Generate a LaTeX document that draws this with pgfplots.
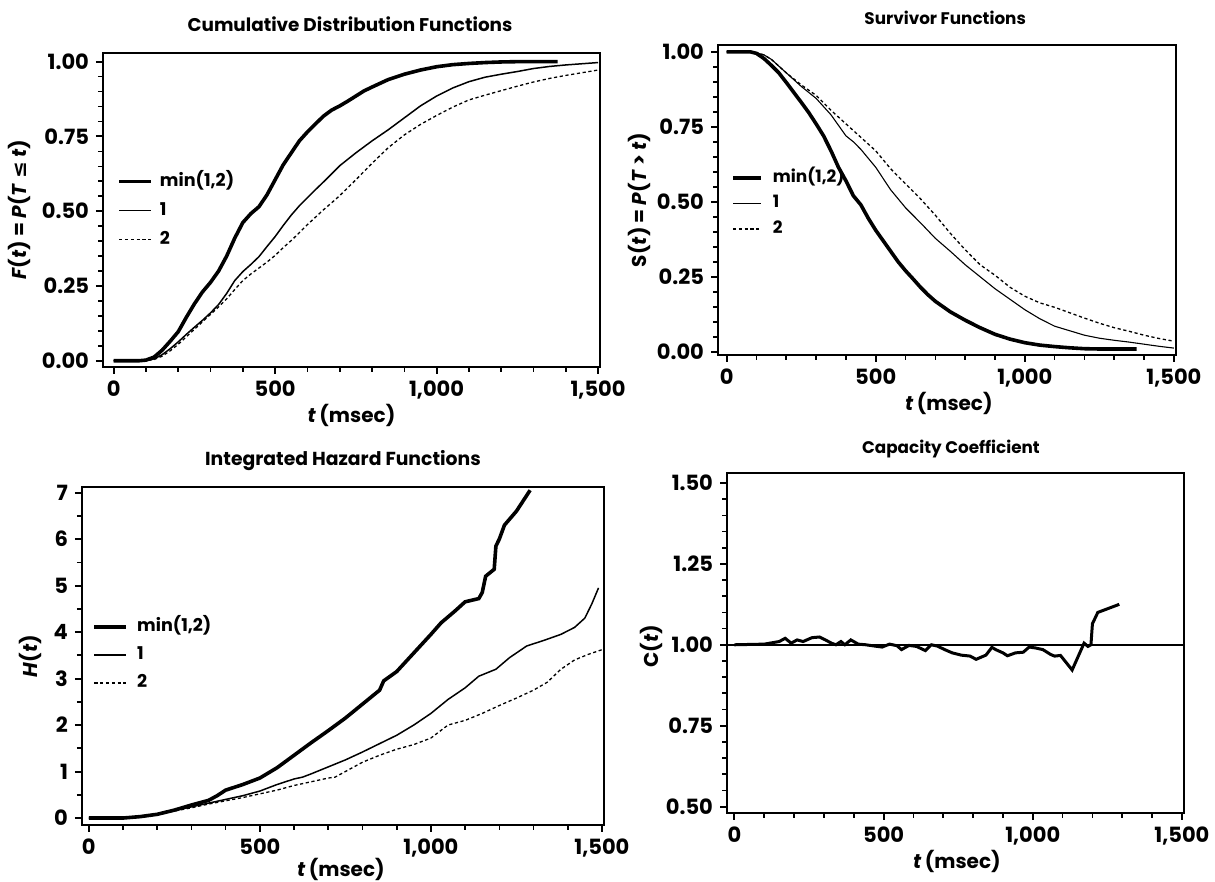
\documentclass[border=0pt]{standalone}
\usepackage{fontspec}
\setmainfont{Poppins}
\newfontfamily\dejavu{DejaVu Sans}
\usepackage{pgfplots}
\pgfplotsset{compat=1.18}

\pgfplotsset{
  panel/.style={
    scale only axis, anchor=south west, clip=true,
    axis line style={line width=1.1pt},
    tick align=outside, xtick pos=bottom, ytick pos=left,
    major tick length=3.5pt, minor tick length=2.5pt,
    every tick/.append style={line width=1pt, black},
    every minor tick/.append style={line width=0.8pt},
    tick label style={font=\fontsize{10.5}{12}\selectfont\bfseries},
    label style={font=\fontsize{10}{12}\selectfont\bfseries},
    title style={font=\fontsize{8.4}{10}\selectfont\bfseries, anchor=center, yshift=0pt},
    xtick={0,500,1000,1500}, xticklabels={0,500,{1,000},{1,500}},
    minor x tick num=4,
    xlabel={\textit{t}\,(msec)},
    xlabel style={anchor=center},
    ylabel style={anchor=center, rotate=0},
    legend cell align=left,
    legend image code/.code={\draw[##1] (0pt,0pt) -- (16pt,0pt);},
  },
  minc/.style={line width=1.8pt, black},
  onec/.style={line width=0.75pt, black},
  twoc/.style={line width=0.65pt, black, dash pattern=on 1.6pt off 1.3pt},
}

\pgfplotstableread{
t F
0 0
80 0
100 0.002
125 0.012
150 0.035
175 0.065
200 0.097
225 0.145
250 0.19
275 0.23
300 0.262
325 0.30
350 0.35
375 0.41
400 0.462
425 0.492
450 0.515
475 0.555
500 0.605
525 0.655
550 0.695
575 0.735
600 0.765
625 0.792
650 0.818
675 0.838
700 0.852
725 0.868
750 0.885
775 0.902
800 0.915
850 0.94
900 0.958
950 0.972
1000 0.983
1050 0.99
1100 0.994
1150 0.997
1200 0.999
1250 1
1375 1
}\cdfmin
\pgfplotstableread{
t F
0 0
100 0
125 0.006
150 0.02
175 0.04
200 0.063
225 0.088
250 0.112
275 0.135
300 0.16
325 0.188
350 0.225
375 0.268
400 0.298
425 0.322
450 0.348
475 0.382
500 0.415
525 0.452
550 0.487
575 0.518
600 0.545
625 0.572
650 0.598
675 0.625
700 0.652
750 0.695
800 0.735
850 0.772
900 0.812
950 0.852
1000 0.885
1050 0.912
1100 0.933
1150 0.948
1200 0.958
1250 0.967
1300 0.977
1350 0.984
1400 0.989
1450 0.993
1500 0.997
}\cdfone
\pgfplotstableread{
t F
0 0
100 0
125 0.004
150 0.015
175 0.033
200 0.055
225 0.08
250 0.105
275 0.13
300 0.155
325 0.18
350 0.207
375 0.238
400 0.268
425 0.29
450 0.31
475 0.33
500 0.352
525 0.378
550 0.402
575 0.428
600 0.455
625 0.48
650 0.505
675 0.528
700 0.552
750 0.605
800 0.66
850 0.712
900 0.755
950 0.79
1000 0.82
1050 0.848
1100 0.872
1150 0.888
1200 0.903
1250 0.918
1300 0.932
1350 0.944
1400 0.954
1450 0.963
1500 0.972
}\cdftwo

\pgfplotstableread{
t S
0 1
80 1
100 0.995
125 0.978
150 0.955
175 0.93
200 0.898
225 0.865
250 0.832
275 0.798
300 0.76
325 0.72
350 0.67
375 0.615
400 0.57
425 0.52
450 0.49
475 0.445
500 0.405
525 0.37
550 0.335
575 0.3
600 0.27
625 0.243
650 0.215
675 0.19
700 0.168
750 0.133
800 0.105
850 0.08
900 0.058
950 0.042
1000 0.03
1050 0.022
1100 0.017
1150 0.013
1200 0.01
1250 0.009
1375 0.009
}\survmin
\pgfplotstableread{
t S
0 1
80 1
100 0.997
125 0.99
150 0.975
200 0.93
250 0.885
300 0.845
350 0.79
400 0.72
425 0.70
450 0.675
500 0.615
550 0.54
600 0.48
650 0.43
700 0.378
750 0.335
800 0.29
850 0.25
900 0.21
950 0.175
1000 0.14
1050 0.11
1100 0.085
1150 0.07
1200 0.055
1250 0.045
1300 0.038
1350 0.032
1400 0.025
1450 0.018
1500 0.012
}\survone
\pgfplotstableread{
t S
0 1
80 1
100 0.997
125 0.99
150 0.975
200 0.93
250 0.89
300 0.855
350 0.805
400 0.76
450 0.715
500 0.67
550 0.61
600 0.56
650 0.51
700 0.455
750 0.395
800 0.34
850 0.29
900 0.255
950 0.215
1000 0.185
1050 0.163
1100 0.148
1150 0.13
1200 0.112
1250 0.095
1300 0.08
1350 0.068
1400 0.055
1450 0.044
1500 0.035
}\survtwo

\pgfplotstableread{
t H
0 0
100 0
150 0.03
200 0.08
250 0.17
300 0.28
350 0.38
375 0.48
400 0.6
450 0.72
500 0.86
550 1.08
600 1.35
650 1.62
700 1.88
750 2.15
800 2.45
850 2.75
862 2.95
900 3.15
950 3.55
1000 3.95
1030 4.2
1070 4.45
1100 4.65
1140 4.72
1150 4.85
1160 5.2
1185 5.35
1190 5.85
1200 6.0
1215 6.3
1250 6.6
1290 7.05
}\hazmin
\pgfplotstableread{
t H
0 0
100 0
150 0.04
200 0.09
250 0.16
300 0.24
350 0.32
400 0.4
450 0.48
500 0.58
550 0.72
600 0.84
625 0.88
650 0.95
700 1.1
750 1.25
800 1.42
850 1.6
900 1.78
950 2.0
1000 2.25
1050 2.55
1100 2.8
1140 3.05
1190 3.2
1230 3.45
1280 3.7
1330 3.82
1380 3.95
1420 4.1
1450 4.3
1470 4.6
1490 4.95
}\hazone
\pgfplotstableread{
t H
0 0
100 0
150 0.03
200 0.08
250 0.15
300 0.22
350 0.3
400 0.37
450 0.44
500 0.52
550 0.6
600 0.7
650 0.78
700 0.86
720 0.88
750 1.0
800 1.2
850 1.35
900 1.48
950 1.58
1000 1.72
1050 2.0
1100 2.1
1150 2.25
1200 2.42
1250 2.58
1300 2.75
1340 2.92
1380 3.2
1420 3.4
1460 3.52
1500 3.62
}\haztwo

\pgfplotstableread{
t C
0 1.0
100 1.002
150 1.01
170 1.02
190 1.005
210 1.015
230 1.01
260 1.022
285 1.024
305 1.015
325 1.005
340 1.0
357 1.01
370 1.0
390 1.015
415 1.002
440 1.0
470 0.996
495 0.993
520 1.002
545 0.997
560 0.985
585 0.998
610 0.995
640 0.982
660 1.0
680 0.996
705 0.985
730 0.975
760 0.968
790 0.965
810 0.955
843 0.968
863 0.992
876 0.985
900 0.975
915 0.966
942 0.975
968 0.977
988 0.993
1010 0.99
1034 0.985
1060 0.97
1073 0.965
1093 0.967
1132 0.922
1172 1.005
1185 0.995
1195 1.0
1200 1.065
1218 1.1
1290 1.125
}\capc

\begin{document}
\begin{tikzpicture}
\useasboundingbox (0,0) rectangle (607.5pt,441pt);

% Panel 1: CDF
\begin{axis}[panel, at={(51.5pt,257.5pt)}, width=248.5pt, height=157pt,
  xmin=-33, xmax=1506, ymin=-0.021, ymax=1.029,
  ytick={0,0.25,0.5,0.75,1}, yticklabels={0.00,0.25,0.50,0.75,1.00},
  minor y tick num=4,
  title={Cumulative Distribution Functions},
  title style={at={(axis description cs:0.497,1.054)}, font=\fontsize{9.2}{10}\selectfont\bfseries},
  xlabel style={at={(axis description cs:0.5,-0.153)}},
  ylabel={\textit{F}(\textit{t}) = \textit{P}(\textit{T} {\dejavu\bfseries ≤} \textit{t})},
  ylabel style={at={(axis description cs:-0.169,0.5)}, rotate=0},
  legend style={draw=none, fill=none, at={(axis description cs:0.016,0.635)}, anchor=north west,
    font=\fontsize{8.8}{10}\selectfont\bfseries, row sep=5pt, column sep=3.5pt,
    nodes={inner sep=0pt, text height=7pt, text depth=2.5pt}},
]
\addplot[minc] table[x=t,y=F] {\cdfmin};
\addplot[onec] table[x=t,y=F] {\cdfone};
\addplot[twoc] table[x=t,y=F] {\cdftwo};
\legend{min(1{,}2),1,2}
\end{axis}

% Panel 2: Survivor
\begin{axis}[panel, at={(359pt,263.5pt)}, width=229pt, height=155pt,
  xmin=-29, xmax=1507, ymin=-0.011, ymax=1.023,
  ytick={0,0.25,0.5,0.75,1}, yticklabels={0.00,0.25,0.50,0.75,1.00},
  minor y tick num=4,
  title={Survivor Functions},
  title style={at={(axis description cs:0.496,1.048)}},
  xlabel style={at={(axis description cs:0.504,-0.155)}},
  ylabel={S(\textit{t}) = \textit{P}(\textit{T} > \textit{t})},
  ylabel style={at={(axis description cs:-0.172,0.5)}},
  legend style={draw=none, fill=none, at={(axis description cs:0.015,0.616)}, anchor=north west,
    font=\fontsize{8.5}{10}\selectfont\bfseries, row sep=3.25pt, column sep=5pt,
    nodes={inner sep=0pt, text height=7pt, text depth=2.5pt}},
  legend image code/.code={\draw[#1] (0pt,0pt) -- (14pt,0pt);},
]
\addplot[minc] table[x=t,y=S] {\survmin};
\addplot[onec, line width=0.55pt] table[x=t,y=S] {\survone};
\addplot[twoc] table[x=t,y=S] {\survtwo};
\legend{min(1{,}2),1,2}
\end{axis}

% Panel 3: Integrated hazard
\begin{axis}[panel, at={(41pt,28.5pt)}, width=261pt, height=169pt,
  xmin=-20, xmax=1506, ymin=-0.15, ymax=7.12,
  ytick={0,1,2,3,4,5,6,7}, minor y tick num=1,
  yticklabel style={/pgf/number format/assume math mode=true},
  title={Integrated Hazard Functions},
  title style={at={(axis description cs:0.5,1.042)}, font=\fontsize{9.4}{10}\selectfont\bfseries},
  xlabel style={at={(axis description cs:0.496,-0.133)}},
  ylabel={\textit{H}(\textit{t})},
  ylabel style={at={(axis description cs:-0.098,0.5)}},
  legend style={draw=none, fill=none, at={(axis description cs:0.008,0.627)}, anchor=north west,
    font=\fontsize{8.8}{10}\selectfont\bfseries, row sep=4.5pt, column sep=4.5pt,
    nodes={inner sep=0pt, text height=7pt, text depth=2.5pt}},
]
\addplot[minc] table[x=t,y=H] {\hazmin};
\addplot[onec] table[x=t,y=H] {\hazone};
\addplot[twoc] table[x=t,y=H] {\haztwo};
\legend{min(1{,}2),1,2}
\end{axis}

% Panel 4: Capacity coefficient
\begin{axis}[panel, at={(363.5pt,34.5pt)}, width=228.5pt, height=170pt,
  xmin=-25, xmax=1507, ymin=0.48, ymax=1.531,
  ytick={0.5,0.75,1,1.25,1.5}, yticklabels={0.50,0.75,1.00,1.25,1.50},
  minor y tick num=4,
  title={Capacity Coefficient},
  title style={at={(axis description cs:0.49,1.035)}},
  xlabel style={at={(axis description cs:0.503,-0.144)}},
  ylabel={C(\textit{t})},
  ylabel style={at={(axis description cs:-0.166,0.49)}},
]
\addplot[line width=1pt, black] coordinates {(-25,1) (1507,1)};
\addplot[line width=1.5pt, black] table[x=t,y=C] {\capc};
\end{axis}
\end{tikzpicture}
\end{document}
